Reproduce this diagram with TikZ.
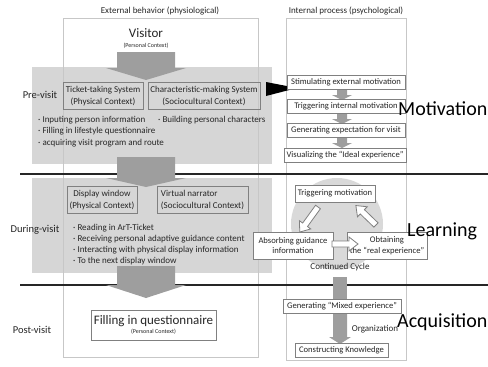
\documentclass[tikz,border=0pt]{standalone}
\usepackage{fontspec}
\setmainfont{Carlito}
\definecolor{regiongray}{gray}{0.84}
\definecolor{framegray}{gray}{0.78}
\definecolor{arrowgray}{gray}{0.62}
\definecolor{textgray}{gray}{0.15}
\newcommand{\FS}[1]{\fontsize{#1}{1.25\dimexpr#1pt\relax}\selectfont}
% thick block arrow pointing down: x, top, head base, tip, half shaft, half head
\newcommand{\fatarrow}[6]{%
  \fill[arrowgray] ({#1-#5},#2) -- ({#1+#5},#2) -- ({#1+#5},#3) -- ({#1+#6},#3)
    -- (#1,#4) -- ({#1-#6},#3) -- ({#1-#5},#3) -- cycle;}
% outlined arrow: start x, start y, angle, length
\newcommand{\hollowarrow}[4]{%
  \draw[draw=gray,fill=white,line width=0.8pt,shift={(#1,#2)},rotate=#3]
    (0,-3) -- ({#4-9},-3) -- ({#4-9},-7) -- (#4,0) -- ({#4-9},7) -- ({#4-9},3) -- (0,3) -- cycle;}

\begin{document}
\begin{tikzpicture}[x=1pt,y=-1pt,every node/.style={text=textgray,font=\FS{9}},
    sysbox/.style={draw=gray,line width=0.7pt,minimum height=27,inner sep=1pt,align=center},
    stepbox/.style={draw=gray,line width=0.7pt,fill=white,minimum width=118,minimum height=14,inner sep=1pt,align=center,font=\FS{8.6}},
    item/.style={anchor=west,inner sep=0pt},
    phase/.style={font=\FS{10.5}},
    big/.style={anchor=base west,inner sep=0pt,text=black,font=\FS{20}}]
    \useasboundingbox (0,0) rectangle (488,367);
    % shaded phases and the learning cycle
    \fill[regiongray] (32,67) rectangle (272,164);
    \fill[regiongray] (32,178) rectangle (272,273);
    \fill[gray!30] (337,224) circle (46);
    % the two columns
    \draw[framegray,line width=0.8pt] (63,18) rectangle (258,357);
    \draw[framegray,line width=0.8pt] (286,18) rectangle (406,360);
    \draw[line width=1.2pt,black!85] (20,174) -- (488,174);
    \draw[line width=1.2pt,black!85] (20,285) -- (488,285);
    \node (extlabel) at (160,11) {External behavior (physiological)};
    \node (intlabel) at (346,11) {Internal process (psychological)};

    % left column
    \node (visitor) at (146,33) [font=\FS{13}] {Visitor};
    \node (visitorctx) at (146,46) [font=\FS{6}] {(Personal Context)};
    \fatarrow{146}{52}{68}{80}{29}{40}
    \fatarrow{146}{157}{178}{187}{29}{40}
    \fatarrow{146}{266}{285}{298}{29}{40}

    \node (pre) at (40,95) [phase] {Pre-visit};
    \node (ticket) at (103,96) [sysbox,minimum width=80] {Ticket-taking System\\(Physical Context)};
    \node (charmake) at (204,96) [sysbox,minimum width=112] {Characteristic-making System\\(Sociocultural Context)};
    \node (inputing) at (38,120) [item] {· Inputing person information};
    \node (building) at (158,120) [item] {· Building personal characters};
    \node (lifestyle) at (38,131) [item] {· Filling in lifestyle questionnaire};
    \node (acquiring) at (38,143) [item] {· acquiring visit program and route};
    \fill[black] (266,82) -- (297,88) -- (266,96) -- cycle;

    \node (during) at (35,230) [phase] {During-visit};
    \node (display) at (102,200) [sysbox,minimum width=70] {Display window\\(Physical Context)};
    \node (narrator) at (202.5,200) [sysbox,minimum width=91,align=left] {Virtual narrator\\(Sociocultural Context)};
    \node (reading) at (73,228) [item] {· Reading in ArT-Ticket};
    \node (receiving) at (73,239) [item] {· Receiving personal adaptive guidance content};
    \node (interacting) at (73,250) [item] {· Interacting with physical display information};
    \node (nextwindow) at (73,261) [item] {· To the next display window};

    \node (post) at (32,330) [phase] {Post-visit};
    \node (questionnaire) at (153.5,325) [draw=gray,line width=0.7pt,fill=white,minimum width=125,minimum height=30,inner sep=1pt,align=center]
        {\FS{13}Filling in questionnaire\\[-3pt]\FS{6}(Personal Context)};

    % right column
    \fatarrow{342}{89}{95}{100}{5}{10}
    \fatarrow{342}{113}{119}{124}{5}{10}
    \fatarrow{342}{137}{143}{148}{5}{10}
    \node (stim) at (346,82) [stepbox] {Stimulating external motivation};
    \node (trigint) at (346,106) [stepbox] {Triggering internal motivation};
    \node (expect) at (346,130) [stepbox] {Generating expectation for visit};
    \node (ideal) at (345,155) [stepbox,minimum width=122] {Visualizing the ``Ideal experience''};
    \node (motivation) at (398,115) [big] {Motivation};

    \node (trigmot) at (335,193.5) [stepbox,minimum width=80,minimum height=17] {Triggering motivation};
    \node (absorb) at (293,245.5) [stepbox,minimum width=80,minimum height=27] {Absorbing guidance\\information};
    \node (obtain) at (387,245.5) [stepbox,minimum width=80,minimum height=27] {Obtaining\\the ``real experience''};
    \hollowarrow{318}{207}{234}{31}
    \hollowarrow{376}{225}{136}{28}
    \hollowarrow{332}{244}{0}{26}
    \node (cycle) at (340,267) {Continued Cycle};
    \node (learning) at (407,236) [big] {Learning};

    \fill[arrowgray] (333,277) rectangle (347,301);
    \fatarrow{340}{313}{337}{344}{7}{11}
    \node (mixed) at (342,306.5) [stepbox] {Generating ``Mixed experience''};
    \node (knowledge) at (341.5,350) [stepbox,minimum width=93] {Constructing Knowledge};
    \node (organization) at (375,329) {Organization};
    \node (acquisition) at (397,327) [big] {Acquisition};
\end{tikzpicture}
\end{document}
